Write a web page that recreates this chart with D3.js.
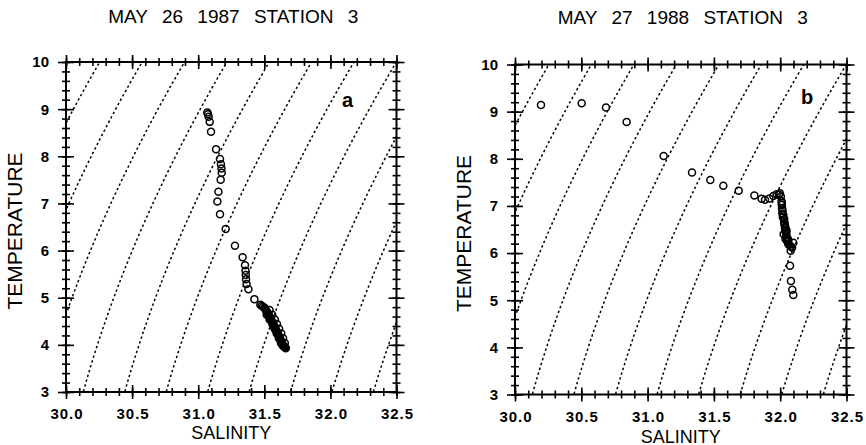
<!DOCTYPE html>
<html><head><meta charset="utf-8">
<script src="https://cdn.jsdelivr.net/npm/d3@7"></script>
<style>body{margin:0;background:#fff} svg{display:block}</style>
</head><body>
<svg id="chart" width="866" height="445"></svg>
<script>
// ---- data ----
const titles = ["MAY 26 1987 STATION 3", "MAY 27 1988 STATION 3"];
const panelLetters = ["a", "b"];
const salinityTicks = [30.0, 30.5, 31.0, 31.5, 32.0, 32.5];
const tempTicks = [3, 4, 5, 6, 7, 8, 9, 10];
const sigmaLevels = [23.25, 23.5, 23.75, 24.0, 24.25, 24.5, 24.75, 25.0, 25.25, 25.5, 25.75];

const salinityA = [31.069, 31.074, 31.079, 31.087, 31.097, 31.135, 31.165, 31.172, 31.176, 31.178, 31.170,
  31.153, 31.145, 31.165, 31.208, 31.278, 31.336, 31.354, 31.358, 31.360, 31.362, 31.366, 31.380, 31.425,
  31.47, 31.48, 31.49, 31.50, 31.505, 31.51, 31.515, 31.52, 31.525, 31.53, 31.535, 31.54, 31.545, 31.55,
  31.553, 31.556, 31.56, 31.565, 31.57, 31.574, 31.578, 31.582, 31.586, 31.59, 31.595, 31.60, 31.604,
  31.608, 31.612, 31.616, 31.62, 31.624, 31.628, 31.632, 31.636, 31.64, 31.644, 31.648, 31.652, 31.656,
  31.66, 31.662,
  31.540, 31.518, 31.560, 31.540, 31.580, 31.562, 31.596, 31.578, 31.612, 31.594, 31.628, 31.610,
  31.642, 31.626, 31.655, 31.640];
const temperatureA = [8.93, 8.89, 8.84, 8.73, 8.52, 8.15, 7.94, 7.83, 7.74, 7.65, 7.50,
  7.25, 7.04, 6.77, 6.46, 6.10, 5.86, 5.69, 5.57, 5.48, 5.39, 5.29, 5.18, 4.97,
  4.85, 4.83, 4.81, 4.79, 4.77, 4.75, 4.72, 4.70, 4.67, 4.65, 4.62, 4.60, 4.57, 4.55,
  4.52, 4.50, 4.47, 4.45, 4.42, 4.40, 4.37, 4.35, 4.32, 4.30, 4.27, 4.25, 4.22,
  4.20, 4.17, 4.15, 4.12, 4.10, 4.07, 4.05, 4.02, 4.00, 3.98, 3.97, 3.96, 3.95,
  3.94, 3.93,
  4.74, 4.64, 4.64, 4.54, 4.54, 4.44, 4.44, 4.34, 4.34, 4.24, 4.24, 4.14,
  4.14, 4.04, 4.04, 3.98];

const salinityB = [30.196, 30.503, 30.686, 30.842, 31.121, 31.335, 31.473, 31.571, 31.687, 31.805, 31.860,
  31.885, 31.918, 31.948, 31.973, 31.998, 32.005, 32.010, 32.012, 32.016, 32.020, 32.029, 32.032, 32.036,
  32.040, 32.044, 32.049, 32.055, 32.061, 32.080, 32.099, 32.090, 32.079, 32.074, 32.081, 32.091, 32.099,
  31.990, 32.012, 32.014, 32.018, 32.024, 32.030, 32.034, 32.038, 32.042, 32.046, 32.050, 32.058, 32.068,
  32.026, 32.048, 32.040, 32.062];
const temperatureB = [9.14, 9.18, 9.09, 8.78, 8.06, 7.71, 7.55, 7.43, 7.32, 7.22, 7.15,
  7.13, 7.16, 7.21, 7.25, 7.27, 7.20, 7.10, 7.02, 6.84, 6.76, 6.67, 6.60, 6.53,
  6.45, 6.38, 6.28, 6.24, 6.19, 6.14, 6.22, 6.12, 6.05, 5.73, 5.41, 5.22, 5.11,
  7.24, 7.06, 6.95, 6.90, 6.80, 6.72, 6.63, 6.56, 6.49, 6.42, 6.34, 6.30, 6.17,
  6.40, 6.48, 6.30, 6.26];

// ---- layout ----
const panels = [
  {left: 66, right: 396.5, top: 62, bottom: 392, sal: salinityA, tem: temperatureA,
   titleY: 23, salLabelY: 438.5, letterX: 342, letterY: 106.5},
  {left: 515, right: 846.5, top: 64.5, bottom: 394.5, sal: salinityB, tem: temperatureB,
   titleY: 24, salLabelY: 442.5, letterX: 801, letterY: 103.5}
];

// UNESCO 1980 one-atmosphere density -> sigma-t
function sigmaT(S, t) {
  const rw = 999.842594 + 6.793952e-2*t - 9.095290e-3*t*t + 1.001685e-4*t*t*t
    - 1.120083e-6*t*t*t*t + 6.536332e-9*t*t*t*t*t;
  const A = 0.824493 - 4.0899e-3*t + 7.6438e-5*t*t - 8.2467e-7*t*t*t + 5.3875e-9*t*t*t*t;
  const B = -5.72466e-3 + 1.0227e-4*t - 1.6546e-6*t*t;
  const C = 4.8314e-4;
  return rw + A*S + B*Math.pow(S, 1.5) + C*S*S - 1000;
}
function salinityFor(sig, t) {
  let S = 31;
  for (let i = 0; i < 30; i++) {
    const f = sigmaT(S, t) - sig;
    const d = (sigmaT(S + 1e-4, t) - sigmaT(S - 1e-4, t)) / 2e-4;
    S -= f / d;
  }
  return S;
}

const svg = d3.select("#chart");
const FONT = "'Liberation Sans', Arial, sans-serif";
const minorSal = d3.range(30, 32.5001, 0.1);
const minorTem = d3.range(3, 10.0001, 0.2);

panels.forEach((p, i) => {
  const x = d3.scaleLinear().domain([30, 32.5]).range([p.left, p.right]);
  const y = d3.scaleLinear().domain([3, 10]).range([p.bottom, p.top]);
  const g = svg.append("g");

  const cid = "clip" + i;
  svg.append("defs").append("clipPath").attr("id", cid)
    .append("rect").attr("x", p.left).attr("y", p.top)
    .attr("width", p.right - p.left).attr("height", p.bottom - p.top);

  // isopycnals
  const temps = d3.range(2.5, 10.51, 0.05);
  const line = d3.line().x(d => x(d[0])).y(d => y(d[1]));
  g.append("g").attr("clip-path", `url(#${cid})`)
    .selectAll("path").data(sigmaLevels).join("path")
    .attr("d", s => line(temps.map(t => [salinityFor(s, t), t])))
    .attr("fill", "none").attr("stroke", "#000").attr("stroke-width", 1.5)
    .attr("stroke-dasharray", "2.4,2.6");

  function tickPair(axA, axB, scale, vals, size, tx, ty) {
    [axA, axB].forEach(ax => {
      const a = ax(scale).tickValues(vals).tickSize(size).tickSizeOuter(0).tickFormat("");
      const gg = g.append("g").attr("transform", `translate(${tx},${ty})`).call(a);
      gg.select(".domain").remove();
      gg.selectAll("line").attr("stroke", "#000").attr("stroke-width", 1.6);
    });
  }
  tickPair(d3.axisBottom, d3.axisTop, x, minorSal, 4, 0, p.bottom);
  tickPair(d3.axisBottom, d3.axisTop, x, salinityTicks, 7, 0, p.bottom);
  tickPair(d3.axisBottom, d3.axisTop, x, minorSal, 4, 0, p.top);
  tickPair(d3.axisBottom, d3.axisTop, x, salinityTicks, 7, 0, p.top);
  tickPair(d3.axisLeft, d3.axisRight, y, minorTem, 4, p.left, 0);
  tickPair(d3.axisLeft, d3.axisRight, y, tempTicks, 8, p.left, 0);
  tickPair(d3.axisLeft, d3.axisRight, y, minorTem, 4, p.right, 0);
  tickPair(d3.axisLeft, d3.axisRight, y, tempTicks, 8, p.right, 0);

  g.append("rect").attr("x", p.left).attr("y", p.top)
    .attr("width", p.right - p.left).attr("height", p.bottom - p.top)
    .attr("fill", "none").attr("stroke", "#000").attr("stroke-width", 2);

  g.selectAll(".xl").data(salinityTicks).join("text")
    .attr("x", d => x(d) + 1).attr("y", p.bottom + 27)
    .attr("text-anchor", "middle").attr("font-family", FONT)
    .attr("font-size", 15).attr("font-weight", "bold").attr("letter-spacing", 1)
    .text(d => d3.format(".1f")(d));
  g.selectAll(".yl").data(tempTicks).join("text")
    .attr("x", p.left - 17).attr("y", d => y(d)).attr("dy", "0.36em")
    .attr("text-anchor", "end").attr("font-family", FONT)
    .attr("font-size", 15).attr("font-weight", "bold")
    .text(d => d);

  g.append("text").attr("x", (p.left + p.right) / 2).attr("y", p.salLabelY)
    .attr("text-anchor", "middle").attr("font-family", FONT).attr("font-size", 18)
    .text("SALINITY");
  g.append("text")
    .attr("transform", `translate(${p.left - 44.5},${(p.top + p.bottom) / 2 + 4}) rotate(-90)`)
    .attr("text-anchor", "middle").attr("font-family", FONT).attr("font-size", 21)
    .text("TEMPERATURE");

  g.append("text").attr("x", (p.left + p.right) / 2 + 2).attr("y", p.titleY)
    .attr("text-anchor", "middle").attr("font-family", FONT).attr("font-size", 19)
    .attr("word-spacing", 9).text(titles[i]);

  g.append("text").attr("x", p.letterX).attr("y", p.letterY)
    .attr("font-family", FONT).attr("font-size", 20).attr("font-weight", "bold")
    .text(panelLetters[i]);

  const pts = p.sal.map((s, k) => [s, p.tem[k]]);
  g.append("g").selectAll("circle").data(pts).join("circle")
    .attr("cx", d => x(d[0])).attr("cy", d => y(d[1])).attr("r", 3.5)
    .attr("fill", "none").attr("stroke", "#000").attr("stroke-width", 1.5);
});
</script>
</body></html>
